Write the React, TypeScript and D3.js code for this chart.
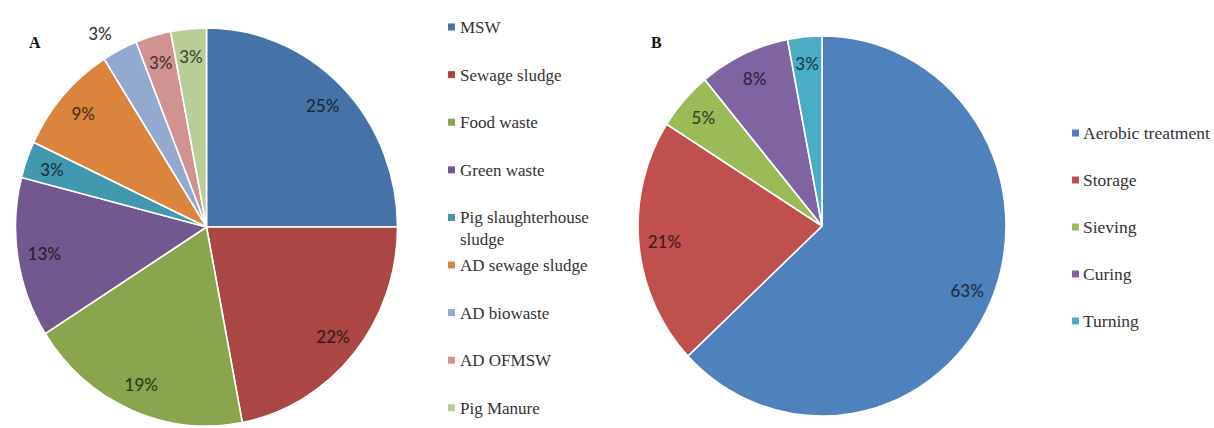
import React from "react";
import * as d3 from "d3";

// Panel A – feedstock shares
const categoriesA = [
  "MSW",
  "Sewage sludge",
  "Food waste",
  "Green waste",
  "Pig slaughterhouse sludge",
  "AD sewage sludge",
  "AD biowaste",
  "AD OFMSW",
  "Pig Manure",
];
const valuesA = [25, 22, 19, 13, 3, 9, 3, 3, 3];
const colorsA = [
  "#4572A7",
  "#AA4643",
  "#89A54E",
  "#71588F",
  "#4198AF",
  "#DB843D",
  "#93A9CF",
  "#D19392",
  "#B9CD96",
];
const legendLinesA = [
  ["MSW"],
  ["Sewage sludge"],
  ["Food waste"],
  ["Green waste"],
  ["Pig slaughterhouse", "sludge"],
  ["AD sewage sludge"],
  ["AD biowaste"],
  ["AD OFMSW"],
  ["Pig Manure"],
];

// Panel B – process stages
const categoriesB = ["Aerobic treatment", "Storage", "Sieving", "Curing", "Turning"];
const valuesB = [63, 21, 5, 8, 3];
const colorsB = ["#4F81BD", "#C0504D", "#9BBB59", "#8064A2", "#4BACC6"];

const outsideLabelsA = ["AD biowaste"];

const LABEL_FONT = "Lato, 'Open Sans', sans-serif";
const LEGEND_FONT = "'Liberation Serif', 'DejaVu Serif', serif";

type PieProps = {
  cats: string[];
  vals: number[];
  cols: string[];
  cx: number;
  cy: number;
  rx: number;
  ry: number;
  outside?: string[];
};

function Pie({ cats, vals, cols, cx, cy, rx, ry, outside = [] }: PieProps) {
  const pie = d3
    .pie<number>()
    .sort(null)
    .value((d) => d);
  const arcs = pie(vals);
  const arc = d3.arc<d3.PieArcDatum<number>>().innerRadius(0).outerRadius(ry);
  const total = d3.sum(vals);
  return (
    <g>
      <g transform={`translate(${cx},${cy}) scale(${rx / ry},1)`}>
        {arcs.map((a, i) => (
          <path
            key={cats[i]}
            d={arc(a) || ""}
            fill={cols[i]}
            stroke="#ffffff"
            strokeWidth={1.6}
            vectorEffect="non-scaling-stroke"
          />
        ))}
      </g>
      {arcs.map((a, i) => {
        const isOut = outside.includes(cats[i]);
        const mid = (a.startAngle + a.endAngle) / 2 - (isOut ? 0.05 : 0);
        const k = isOut ? 1.12 : 0.86;
        const x = cx + k * rx * Math.sin(mid);
        const y = cy - k * ry * Math.cos(mid);
        const c = d3.color(cols[i]);
        const fill = isOut ? "#3a3a3a" : c ? c.darker(2.9).formatHex() : "#222";
        const pct = Math.round((vals[i] / total) * 100) + "%";
        return (
          <text
            key={"l" + cats[i]}
            x={x}
            y={y}
            textAnchor="middle"
            dominantBaseline="central"
            fontFamily={LABEL_FONT}
            fontSize={17}
            fontWeight={500}
            fill={fill}
          >
            {pct}
          </text>
        );
      })}
    </g>
  );
}

export default function App() {
  const W = 1214;
  const H = 428;
  const rowsA = d3.range(categoriesA.length).map((i) => 27 + i * 47.6);
  const rowsB = d3.range(categoriesB.length).map((i) => 133 + i * 47);

  return (
    <svg
      width={W}
      height={H}
      viewBox={`0 0 ${W} ${H}`}
      style={{ position: "absolute", left: 0, top: 0, background: "#ffffff" }}
    >
      <rect width={W} height={H} fill="#ffffff" />

      {/* Panel A */}
      <text x={29} y={48} fontFamily={LEGEND_FONT} fontWeight="bold" fontSize={16} fill="#111">
        A
      </text>
      <Pie
        cats={categoriesA}
        vals={valuesA}
        cols={colorsA}
        cx={206.5}
        cy={227}
        rx={191}
        ry={199}
        outside={outsideLabelsA}
      />
      {categoriesA.map((c, i) => (
        <g key={"legA" + c}>
          <rect x={448} y={rowsA[i] - 3.5} width={7} height={7} fill={colorsA[i]} />
          <text
            x={460}
            y={rowsA[i]}
            dominantBaseline="central"
            fontFamily={LEGEND_FONT}
            fontSize={17}
            fill="#333333"
          >
            {legendLinesA[i].map((ln, j) => (
              <tspan key={j} x={460} dy={j === 0 ? 0 : 22}>
                {ln}
              </tspan>
            ))}
          </text>
        </g>
      ))}

      {/* Panel B */}
      <text x={651} y={48} fontFamily={LEGEND_FONT} fontWeight="bold" fontSize={16} fill="#111">
        B
      </text>
      <Pie
        cats={categoriesB}
        vals={valuesB}
        cols={colorsB}
        cx={822}
        cy={226}
        rx={184}
        ry={190}
      />
      {categoriesB.map((c, i) => (
        <g key={"legB" + c}>
          <rect x={1072} y={rowsB[i] - 3.5} width={7} height={7} fill={colorsB[i]} />
          <text
            x={1083}
            y={rowsB[i]}
            dominantBaseline="central"
            fontFamily={LEGEND_FONT}
            fontSize={17.5}
            fill="#333333"
          >
            {c}
          </text>
        </g>
      ))}
    </svg>
  );
}
